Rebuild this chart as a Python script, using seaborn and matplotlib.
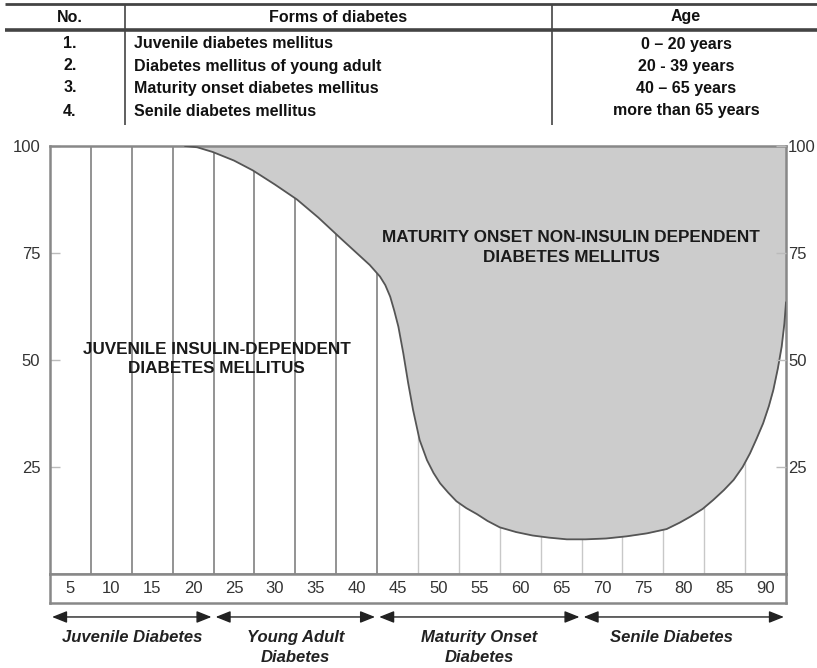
import seaborn as sns
import matplotlib.pyplot as plt

# table above the chart
table_no = ['1.', '2.', '3.', '4.']
table_forms = ['Juvenile diabetes mellitus', 'Diabetes mellitus of young adult',
               'Maturity onset diabetes mellitus', 'Senile diabetes mellitus']
table_ages = ['0 – 20 years', '20 - 39 years', '40 – 65 years', 'more than 65 years']

# boundary between juvenile (below) and maturity onset (above) type, in %
age = [19.0, 20.5, 22.4, 25.0, 27.3, 30.0, 32.7, 35.3, 38.0, 40.0, 41.6, 42.85,
       43.5, 44.1, 44.6, 45.1, 45.7, 46.3, 46.9, 47.7, 48.6, 49.4, 50.2, 51.2,
       52.2, 53.4, 54.7, 56.0, 57.5, 59.5, 61.5, 63.5, 65.7, 68.0, 70.5, 73.0,
       75.5, 77.9, 79.5, 80.8, 82.3, 83.6, 84.9, 86.1, 87.2, 88.1, 88.9, 89.7,
       90.4, 90.95, 91.5, 91.97, 92.3, 92.5]
boundary = [100, 99.7, 98.6, 96.6, 94.3, 91.0, 87.5, 83.3, 78.5, 75.0, 72.2, 69.5,
            67.5, 64.8, 61.5, 57.8, 51.6, 44.6, 38.3, 31.3, 26.6, 23.6, 21.2, 19.0,
            17.0, 15.4, 14.0, 12.4, 10.9, 9.8, 9.0, 8.5, 8.1, 8.1, 8.3, 8.8,
            9.5, 10.5, 12.0, 13.4, 15.2, 17.3, 19.6, 22.0, 25.0, 28.2, 31.6, 35.2,
            39.2, 43.0, 48.0, 53.1, 58.5, 63.5]

age_ticks = [5, 10, 15, 20, 25, 30, 35, 40, 45, 50, 55, 60, 65, 70, 75, 80, 85, 90]
y_ticks = [25, 50, 75, 100]

stages = ['Juvenile Diabetes', 'Young Adult\nDiabetes', 'Maturity Onset\nDiabetes', 'Senile Diabetes']
stage_bounds = [2.5, 22.5, 42.5, 67.5, 92.5]
stage_label_x = [12.5, 32.5, 55, 78.5]

sns.set_theme(style='white')
plt.rcParams['font.family'] = ['Liberation Sans', 'DejaVu Sans']

W, H = 817, 668
fig = plt.figure(figsize=(W / 100, H / 100), dpi=100)


def box(x0, y0, x1, y1):
    return [x0 / W, 1 - y1 / H, (x1 - x0) / W, (y1 - y0) / H]


tab = fig.add_axes(box(0, 0, 817, 125))
ax = fig.add_axes(box(50, 146, 786, 574))
band = fig.add_axes(box(50, 574, 786, 603))
arr = fig.add_axes(box(50, 603, 786, 668))

# --- table ---
tab.set_xlim(0, 817)
tab.set_ylim(125, 0)
tab.axis('off')
tab.hlines(4, 5, 817, color='#444444', lw=2)
tab.hlines(30, 5, 817, color='#444444', lw=2.6)
tab.vlines([125, 552], 4, 125, color='#444444', lw=1.2)
hdr = dict(ha='center', va='center', fontsize=11.5, fontweight='bold', color='#111111')
tab.text(70, 17, 'No.', **hdr)
tab.text(338, 17, 'Forms of diabetes', **hdr)
tab.text(686, 17, 'Age', **hdr)
for i, yy in enumerate([44, 66, 88, 111]):
    tab.text(70, yy, table_no[i], **hdr)
    tab.text(134, yy, table_forms[i], ha='left', va='center', fontsize=11.5,
             fontweight='bold', color='#111111')
    tab.text(686, yy, table_ages[i], **hdr)

# --- main chart ---
edges = [a + 2.5 for a in age_ticks[:-1]]
ax.vlines([e for e in edges if e < 45], 0, 100, color='#8a8a8a', lw=1.3, zorder=1)
ax.vlines([e for e in edges if e > 45], 0, 100, color='#c8c8c8', lw=1.0, zorder=1)
ax.fill_between(age, boundary, 100, color='#cccccc', lw=0, zorder=2)
sns.lineplot(x=age, y=boundary, ax=ax, color='#555555', lw=1.3, sort=False, zorder=3)
ax.set_xlim(2.5, 92.5)
ax.set_ylim(0, 100)
ax.set_xticks([])
ax.set_yticks(y_ticks)
ax.set_xlabel('')
ax.set_ylabel('')
ax.tick_params(axis='y', left=True, direction='in', length=7, width=1,
               color='#bbbbbb', labelsize=12, labelcolor='#333333', pad=7)
for s in ax.spines.values():
    s.set_color('#888888')
    s.set_linewidth(1.8)

# right-hand copy of the y axis
rax = ax.twinx()
rax.set_ylim(0, 100)
rax.set_yticks(y_ticks)
rax.tick_params(axis='y', right=True, direction='in', length=7, width=1,
                color='#bbbbbb', labelsize=12, labelcolor='#333333', pad=1.5)
for s in rax.spines.values():
    s.set_visible(False)

ax.text(22.9, 50.3, 'JUVENILE INSULIN-DEPENDENT\nDIABETES MELLITUS', ha='center',
        va='center', fontsize=12.3, fontweight='bold', color='#1a1a1a', linespacing=1.3, zorder=4)
ax.text(66.2, 76.3, 'MATURITY ONSET NON-INSULIN DEPENDENT\nDIABETES MELLITUS', ha='center',
        va='center', fontsize=12.3, fontweight='bold', color='#1a1a1a', linespacing=1.35, zorder=4)

# --- tick label band ---
band.set_xlim(2.5, 92.5)
band.set_ylim(0, 1)
band.set_xticks(age_ticks)
band.set_xticklabels([str(a) for a in age_ticks])
band.set_yticks([])
band.tick_params(axis='x', length=0, pad=-15.5, labelsize=12, labelcolor='#333333')
for s in band.spines.values():
    s.set_color('#888888')
    s.set_linewidth(1.8)

# --- stage arrows ---
arr.set_xlim(2.5, 92.5)
arr.set_ylim(0, 1)
arr.axis('off')
for i, name in enumerate(stages):
    lo, hi = stage_bounds[i], stage_bounds[i + 1]
    arr.annotate('', xy=(hi, 0.785), xytext=(lo, 0.785),
                 arrowprops=dict(arrowstyle='<|-|>,head_length=0.6,head_width=0.24',
                                 color='#222222', lw=1.0, shrinkA=1.5, shrinkB=1.5,
                                 mutation_scale=15))
    arr.text(stage_label_x[i], 0.59, name, ha='center', va='top', fontsize=12,
             fontweight='bold', style='italic', color='#222222', linespacing=1.42)

fig.savefig('out.png', dpi=100)
